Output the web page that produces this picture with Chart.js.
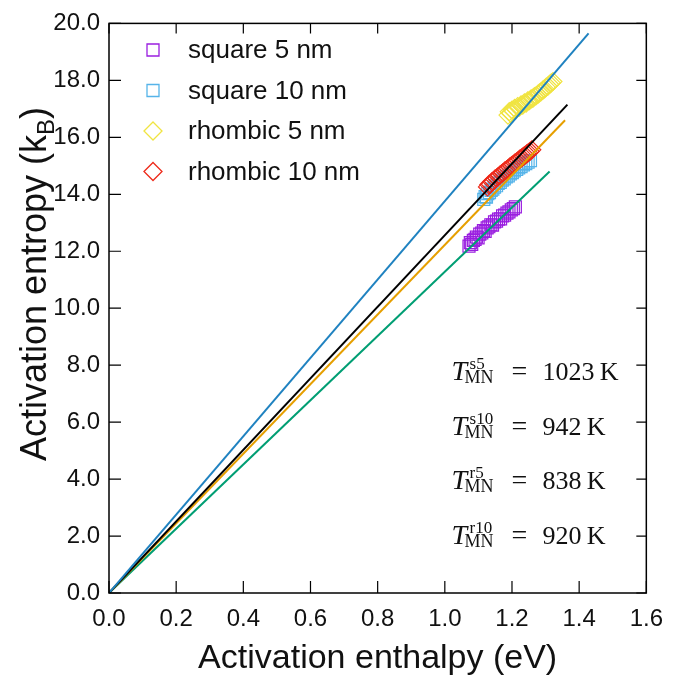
<!DOCTYPE html>
<html>
<head>
<meta charset="utf-8">
<script src="https://cdn.jsdelivr.net/npm/chart.js@4.4.1/dist/chart.umd.min.js"></script>
<style>
body{margin:0;background:#fff;}
canvas{display:block;}
</style>
</head>
<body>
<canvas id="myChart" width="675" height="680"></canvas>
<script>
// データ (読み取り値)
// square 5 nm
const sq5H = [1.072,1.076,1.080,1.085,1.090,1.094,1.099,1.104,1.110,1.115,1.120,1.126,1.131,1.137,1.142,1.148,1.154,1.160,1.166,1.172,1.178,1.185,1.191,1.198,1.204,1.210];
const sq5S = [12.18,12.30,12.24,12.38,12.42,12.50,12.47,12.60,12.64,12.72,12.70,12.82,12.86,12.93,12.92,13.03,13.06,13.13,13.14,13.24,13.27,13.34,13.38,13.45,13.50,13.56];
// square 10 nm
const sq10H = [1.116,1.120,1.124,1.128,1.133,1.138,1.143,1.148,1.154,1.159,1.165,1.171,1.177,1.183,1.189,1.195,1.201,1.207,1.214,1.220,1.227,1.234,1.241,1.248,1.255];
const sq10S = [13.82,13.92,13.90,14.02,14.06,14.14,14.18,14.25,14.30,14.38,14.42,14.50,14.54,14.61,14.65,14.72,14.76,14.82,14.87,14.93,14.97,15.03,15.08,15.13,15.18];
// rhombic 5 nm
const rh5H = [1.188,1.192,1.196,1.200,1.204,1.208,1.212,1.217,1.222,1.227,1.232,1.237,1.242,1.247,1.252,1.257,1.262,1.267,1.272,1.277,1.282,1.287,1.292,1.297,1.302,1.307,1.312,1.317,1.322];
const rh5S = [16.78,16.90,16.84,16.96,16.92,17.02,16.98,17.08,17.06,17.14,17.13,17.21,17.20,17.28,17.29,17.35,17.37,17.43,17.46,17.51,17.56,17.60,17.66,17.70,17.76,17.80,17.86,17.91,17.96];
// rhombic 10 nm
const rh10H = [1.127,1.131,1.135,1.140,1.144,1.149,1.154,1.159,1.164,1.169,1.174,1.179,1.184,1.189,1.194,1.199,1.204,1.209,1.214,1.219,1.224,1.229,1.234,1.239,1.244,1.249,1.254,1.259];
const rh10S = [14.26,14.34,14.36,14.44,14.46,14.53,14.57,14.62,14.67,14.72,14.77,14.82,14.86,14.91,14.96,15.01,15.05,15.10,15.14,15.19,15.24,15.28,15.33,15.37,15.42,15.46,15.51,15.56];

// 直線 (原点から)
const lineColors = ['#1f82c0','#000000','#e69f00','#009e73'];
const lineEndH = [1.428, 1.365, 1.358, 1.312];
const lineEndS = [19.65, 17.15, 16.60, 14.80];

// 凡例
const seriesNames = ['square 5 nm','square 10 nm','rhombic 5 nm','rhombic 10 nm'];
const seriesColors = ['#9a1fe0','#56b4e9','#f0e442','#ee2a1a'];
const seriesShapes = ['rect','rect','rectRot','rectRot'];

// T_MN
const tmnSup = ['s5','s10','r5','r10'];
const tmnVal = ['1023','942','838','920'];
const tmnY = [7.49, 5.55, 3.64, 1.73];

const xTicks = [0,0.2,0.4,0.6,0.8,1.0,1.2,1.4,1.6];
const yTicks = [0,2,4,6,8,10,12,14,16,18,20];

function pts(h, s) {
  return h.map((v, i) => ({x: v, y: s[i]}));
}

const datasets = [];
for (let i = 0; i < lineEndH.length; i++) {
  datasets.push({
    data: [{x: 0, y: 0}, {x: lineEndH[i], y: lineEndS[i]}],
    showLine: true,
    borderColor: lineColors[i],
    borderWidth: 2,
    pointRadius: 0,
    order: 0
  });
}
const sets = [[sq5H, sq5S], [sq10H, sq10S], [rh5H, rh5S], [rh10H, rh10S]];
const ord = [4, 3, 2, 1];
sets.forEach((s, i) => {
  datasets.push({
    label: seriesNames[i],
    data: pts(s[0], s[1]),
    showLine: false,
    pointStyle: seriesShapes[i],
    pointRadius: seriesShapes[i] == 'rect' ? 8.5 : 9,
    pointBorderWidth: 1.2,
    borderColor: seriesColors[i],
    backgroundColor: 'rgba(0,0,0,0)',
    order: ord[i]
  });
});

const SANS = "'Liberation Sans', Arial, sans-serif";
const SERIF = "'Liberation Serif', 'Times New Roman', serif";

// 枠・目盛・凡例・注釈
const extras = {
  id: 'extras',
  afterDraw(chart) {
    const ctx = chart.ctx;
    const a = chart.chartArea;
    const xs = chart.scales.x, ys = chart.scales.y;
    ctx.save();
    ctx.strokeStyle = '#000';
    ctx.lineWidth = 1.5;
    ctx.strokeRect(a.left, a.top, a.right - a.left, a.bottom - a.top);
    ctx.lineWidth = 1.2;
    ctx.beginPath();
    xTicks.forEach(t => {
      const px = xs.getPixelForValue(t);
      ctx.moveTo(px, a.bottom); ctx.lineTo(px, a.bottom - 12);
      ctx.moveTo(px, a.top); ctx.lineTo(px, a.top + 10);
    });
    yTicks.forEach(t => {
      const py = ys.getPixelForValue(t);
      ctx.moveTo(a.left, py); ctx.lineTo(a.left + 12, py);
      ctx.moveTo(a.right, py); ctx.lineTo(a.right - 10, py);
    });
    ctx.stroke();

    // 凡例
    ctx.font = '26px ' + SANS;
    ctx.textBaseline = 'middle';
    ctx.fillStyle = '#111';
    seriesNames.forEach((n, i) => {
      const cy = 50 + i * 40.5, cx = 153;
      ctx.strokeStyle = seriesColors[i];
      ctx.lineWidth = 1.3;
      ctx.beginPath();
      if (seriesShapes[i] == 'rect') {
        ctx.rect(cx - 6, cy - 6, 12, 12);
      } else {
        ctx.moveTo(cx - 9, cy); ctx.lineTo(cx, cy - 9); ctx.lineTo(cx + 9, cy); ctx.lineTo(cx, cy + 9); ctx.closePath();
      }
      ctx.stroke();
      ctx.fillText(n, 188, cy + 1);
    });

    // T_MN 注釈
    ctx.textBaseline = 'alphabetic';
    tmnSup.forEach((s, i) => {
      const x0 = xs.getPixelForValue(1.02);
      const yb = ys.getPixelForValue(tmnY[i]);
      ctx.font = 'italic 28px ' + SERIF;
      ctx.fillText('T', x0, yb);
      ctx.font = '17px ' + SERIF;
      ctx.fillText(s, x0 + 18, yb - 11);
      ctx.font = '18px ' + SERIF;
      ctx.fillText('MN', x0 + 13, yb + 3);
      ctx.font = '28px ' + SERIF;
      ctx.fillText('=', x0 + 60, yb);
      ctx.font = '26px ' + SERIF;
      ctx.fillText(tmnVal[i] + '\u2009K', x0 + 91, yb);
    });

    // 軸タイトル
    ctx.font = '34px ' + SANS;
    ctx.textAlign = 'center';
    ctx.fillText('Activation enthalpy (eV)', (a.left + a.right) / 2, 668);
    ctx.save();
    ctx.translate(46, 284);
    ctx.rotate(-Math.PI / 2);
    ctx.textAlign = 'left';
    const t1 = 'Activation entropy (k';
    ctx.font = '36px ' + SANS;
    const w1 = ctx.measureText(t1).width;
    ctx.font = '24px ' + SANS;
    const w2 = ctx.measureText('B').width;
    ctx.font = '36px ' + SANS;
    const w3 = ctx.measureText(')').width;
    const x1 = -(w1 + w2 + w3) / 2;
    ctx.fillText(t1, x1, 0);
    ctx.font = '24px ' + SANS;
    ctx.fillText('B', x1 + w1, 8);
    ctx.font = '36px ' + SANS;
    ctx.fillText(')', x1 + w1 + w2, 0);
    ctx.restore();
    ctx.restore();
  }
};

const ctx = document.getElementById('myChart').getContext('2d');
const chart = new Chart(ctx, {
  type: 'scatter',
  data: {datasets: datasets},
  options: {
    responsive: false,
    animation: false,
    layout: {padding: {top: 17, right: 23, left: 0, bottom: 0}},
    plugins: {legend: {display: false}, tooltip: {enabled: false}},
    scales: {
      x: {
        type: 'linear', min: 0, max: 1.6,
        grid: {display: false, drawTicks: false},
        border: {display: false},
        afterBuildTicks: s => { s.ticks = xTicks.map(v => ({value: v})); },
        afterFit: s => { s.height = 87; },
        ticks: {
          padding: 12, color: '#111', font: {family: SANS, size: 24},
          maxRotation: 0, autoSkip: false,
          callback: v => v.toFixed(1)
        }
      },
      y: {
        type: 'linear', min: 0, max: 20,
        grid: {display: false, drawTicks: false},
        border: {display: false},
        afterBuildTicks: s => { s.ticks = yTicks.map(v => ({value: v})); },
        afterFit: s => { s.width = 109; },
        ticks: {
          padding: 9, color: '#111', font: {family: SANS, size: 24},
          autoSkip: false,
          callback: v => v.toFixed(1)
        }
      }
    }
  },
  plugins: [extras]
});
</script>
</body>
</html>
